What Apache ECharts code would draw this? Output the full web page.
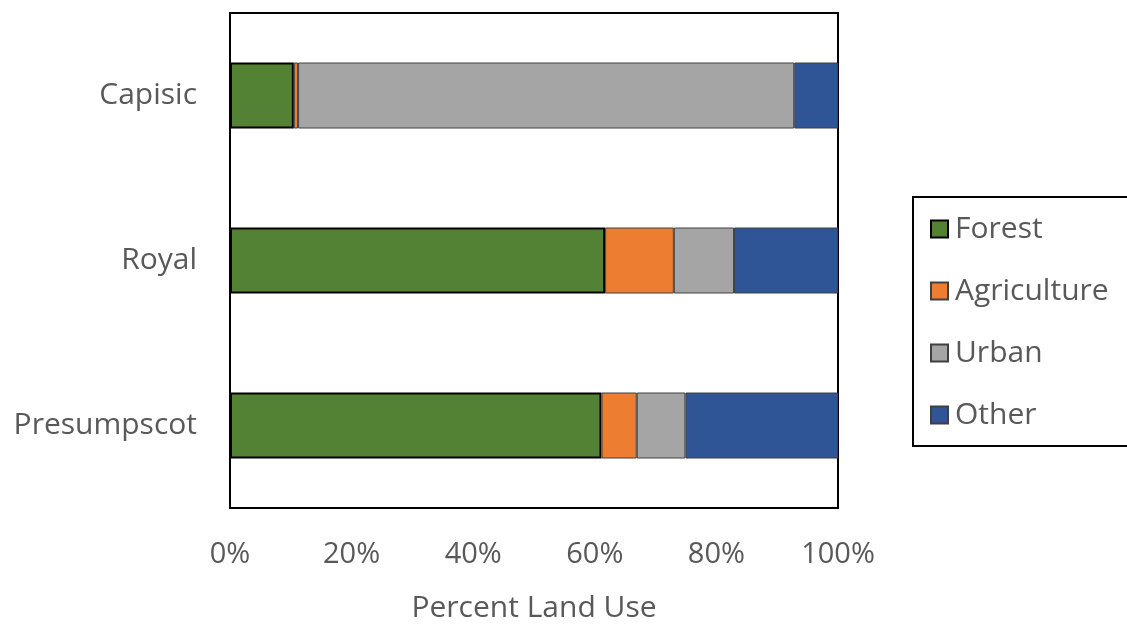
<!DOCTYPE html>
<html><head><meta charset="utf-8">
<script src="https://cdn.jsdelivr.net/npm/echarts@6/dist/echarts.min.js"></script>
<style>html,body{margin:0;padding:0;background:#fff}#c{width:1127px;height:625px}</style>
</head><body><div id="c"></div>
<script>
const categories = ['Capisic', 'Royal', 'Presumpscot'];
const forest = [10.5, 61.7, 61.1];
const agriculture = [0.7, 11.3, 5.8];
const urban = [81.6, 9.9, 8.0];
const other = [7.2, 17.1, 25.1];
const xTicks = [0, 20, 40, 60, 80, 100];

const FONT = 'Open Sans';
const TXT = '#595959';
function mk(name, data, color, bc, bw) {
  return {name, type: 'bar', stack: 'all', data, barWidth: 66,
    itemStyle: {color, borderColor: bc, borderWidth: bw}, emphasis: {disabled: true}};
}
const chart = echarts.init(document.getElementById('c'));
chart.setOption({
  animation: false,
  textStyle: {fontFamily: FONT},
  grid: {left: 230, right: 289, top: 13, bottom: 117, show: true, borderColor: '#000', borderWidth: 2,
    containLabel: false, outerBoundsMode: 'none'},
  legend: {
    orient: 'vertical', left: 913, top: 197, width: 260,
    padding: [15, 60, 14, 17], borderColor: '#000', borderWidth: 2,
    icon: 'rect', itemWidth: 17, itemHeight: 17, itemGap: 28,
    textStyle: {fontSize: 30, color: TXT, fontFamily: FONT, lineHeight: 34, padding: [0, 0, 0, 2]},
    data: ['Forest', 'Agriculture', 'Urban', 'Other']
  },
  xAxis: {
    type: 'value', min: xTicks[0], max: xTicks[xTicks.length - 1], interval: 20,
    axisLine: {show: false}, axisTick: {show: false}, splitLine: {show: false},
    axisLabel: {formatter: '{value}%', fontSize: 29, color: TXT, margin: 32, fontFamily: FONT},
    name: 'Percent Land Use', nameLocation: 'middle', nameGap: 85,
    nameTextStyle: {fontSize: 30, color: TXT, fontFamily: FONT}
  },
  yAxis: {
    type: 'category', data: categories, inverse: true,
    axisLine: {show: false}, axisTick: {show: false},
    axisLabel: {fontSize: 30, color: TXT, margin: 33, fontFamily: FONT}
  },
  series: [
    mk('Forest', forest, '#548235', '#000', 2),
    mk('Agriculture', agriculture, '#ED7D31', '#404040', 1),
    mk('Urban', urban, '#A5A5A5', '#404040', 1),
    mk('Other', other, '#2F5597', '#404040', 1)
  ]
});
</script></body></html>
